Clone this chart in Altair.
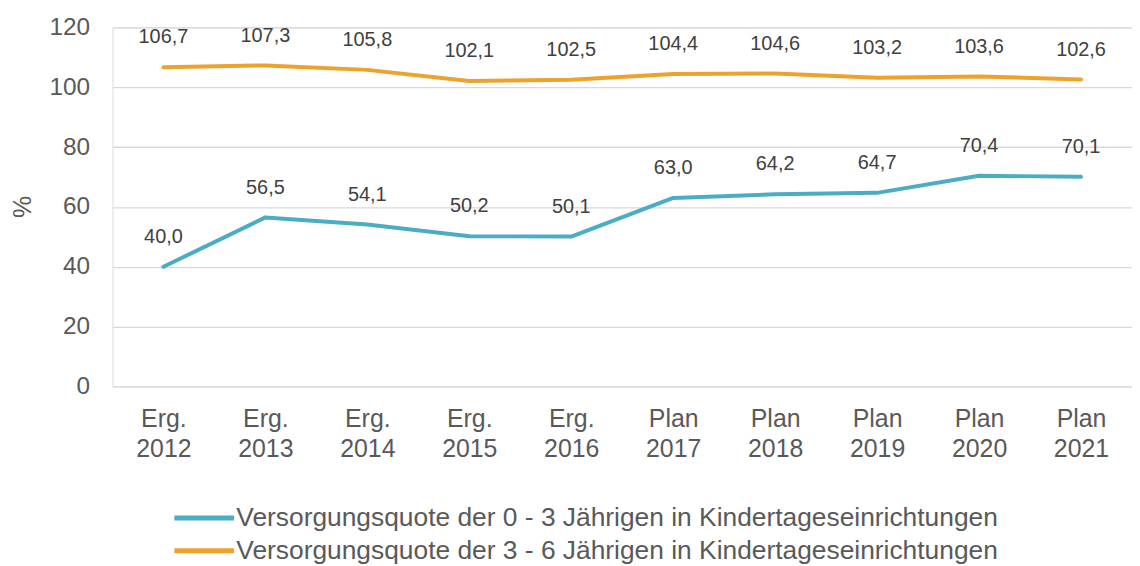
import altair as alt
import pandas as pd

categories = ["Erg. 2012", "Erg. 2013", "Erg. 2014", "Erg. 2015", "Erg. 2016",
              "Plan 2017", "Plan 2018", "Plan 2019", "Plan 2020", "Plan 2021"]
series_u3 = [40.0, 56.5, 54.1, 50.2, 50.1, 63.0, 64.2, 64.7, 70.4, 70.1]
series_36 = [106.7, 107.3, 105.8, 102.1, 102.5, 104.4, 104.6, 103.2, 103.6, 102.6]
name_u3 = "Versorgungsquote der 0 - 3 Jährigen in Kindertageseinrichtungen"
name_36 = "Versorgungsquote der 3 - 6 Jährigen in Kindertageseinrichtungen"
y_ticks = [0, 20, 40, 60, 80, 100, 120]

rows = []
for c, v in zip(categories, series_u3):
    rows.append({"cat": c, "value": v, "series": name_u3})
for c, v in zip(categories, series_36):
    rows.append({"cat": c, "value": v, "series": name_36})
df = pd.DataFrame(rows)

FONT = "Liberation Sans"
GREY = "#595959"

x_enc = alt.X("cat:N", sort=categories,
              scale=alt.Scale(type="point", padding=0.5),
              axis=alt.Axis(title=None, labelExpr="split(datum.label, ' ')",
                            labelAngle=0, labelFontSize=25, labelColor=GREY,
                            labelFont=FONT, labelLineHeight=30, labelPadding=20,
                            ticks=False, domain=False, grid=False))
y_enc = alt.Y("value:Q", scale=alt.Scale(domain=[0, 120], nice=False),
              axis=alt.Axis(title="%", values=y_ticks, labelFontSize=24.5,
                            labelColor=GREY, labelFont=FONT, labelPadding=23,
                            titleFontSize=25, titleColor=GREY, titleFont=FONT,
                            titleFontWeight="normal", titleX=-90, titleY=180,
                            titleAngle=270, titleAlign="center",
                            titleBaseline="middle",
                            ticks=False, domain=False, gridColor="#D9D9D9",
                            gridWidth=1.3))

color = alt.Color("series:N",
                  scale=alt.Scale(domain=[name_u3, name_36],
                                  range=["#4BACC6", "#EDA22D"]),
                  legend=alt.Legend(title=None, orient="none", legendX=79,
                                    legendY=480, direction="vertical",
                                    symbolType="M-3,0H3", symbolSize=400,
                                    symbolStrokeWidth=5, labelFontSize=26.5,
                                    labelColor=GREY, labelFont=FONT,
                                    labelLimit=1000, labelOffset=19,
                                    rowPadding=6))

base = alt.Chart(df)
lines = base.mark_line(strokeWidth=4, strokeCap="round", strokeJoin="round").encode(
    x=x_enc, y=y_enc, color=color)
labels = base.transform_calculate(
    lab="replace(format(datum.value, '.1f'), '.', ',')"
).mark_text(dy=-30, fontSize=20, font=FONT, color="#404040").encode(
    x=alt.X("cat:N", sort=categories), y="value:Q", text="lab:N")

chart = alt.layer(lines, labels).properties(
    width=1025, height=361,
    autosize=alt.AutoSizeParams(type="none"),
    padding={"left": 105, "top": 18, "right": 0, "bottom": 179},
).configure_view(stroke=None).configure(background="white")

chart.save("out.html", embed_options={"renderer": "svg", "actions": False})
